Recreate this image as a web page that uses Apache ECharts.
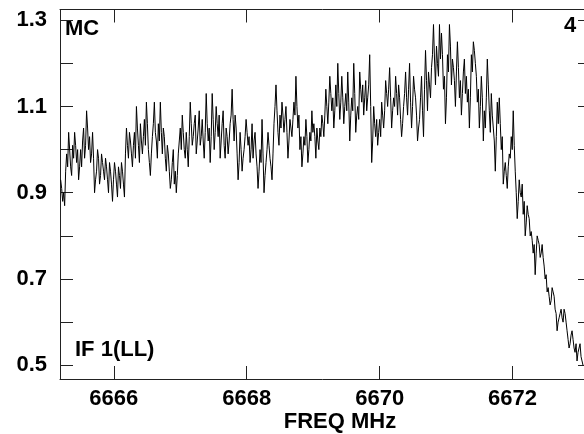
<!DOCTYPE html>
<html>
<head>
<meta charset="utf-8">
<script src="https://cdn.jsdelivr.net/npm/echarts@6/dist/echarts.min.js"></script>
<style>
html,body{margin:0;padding:0;background:#fff;}
#chart{width:584px;height:434px;}
</style>
</head>
<body>
<div id="chart"></div>
<script>
// Spectrum channels (frequency in MHz), regular channel spacing
const freqStart = 6665.2;
const freqStep = 0.015;
// Amplitude per channel
const amplitude = [
0.93,0.91,0.88,0.90,0.87,0.95,0.99,0.96,1.04,1.00,0.96,0.94,1.01,0.98,1.04,1.01,0.97,1.00,0.93,0.96,
1.00,0.96,1.02,1.05,0.98,1.01,1.09,1.05,1.00,1.03,0.97,0.99,1.04,0.98,0.90,0.93,0.95,1.00,0.98,0.92,
0.94,0.99,0.97,0.95,0.93,0.98,0.96,0.93,0.90,0.97,0.95,0.92,0.88,0.93,0.97,0.95,0.92,0.89,0.96,0.94,
0.91,0.97,0.95,0.92,0.89,0.99,1.05,1.01,0.98,1.04,1.02,0.99,0.96,1.01,1.04,0.98,1.10,1.05,1.01,0.97,
1.06,1.02,0.99,1.03,1.07,1.01,1.11,1.06,1.00,0.97,0.94,0.99,1.03,1.06,1.11,1.04,1.02,0.98,1.06,1.02,
1.11,1.04,0.99,1.05,1.03,0.98,0.95,1.01,0.99,0.95,0.91,0.93,0.97,1.00,0.92,0.95,0.90,0.94,0.99,1.02,
1.05,1.00,1.08,1.04,1.00,0.98,1.04,1.00,0.96,1.03,1.11,1.06,1.01,1.03,1.06,1.08,0.99,1.02,1.05,1.09,
1.01,1.03,1.07,1.02,0.98,1.04,1.13,1.06,1.02,1.05,0.97,1.03,1.13,1.07,1.00,1.04,1.10,1.06,1.03,1.08,
0.98,1.02,1.06,1.09,1.01,0.98,1.05,1.03,0.99,1.02,1.06,1.08,1.14,1.07,1.02,1.08,1.05,0.99,0.93,0.97,
1.04,1.00,0.95,0.98,1.00,1.03,1.07,1.04,1.01,1.03,0.97,1.00,1.06,0.98,1.02,1.04,0.99,0.96,0.91,0.95,
1.00,0.97,1.07,0.99,0.90,0.94,0.97,1.00,1.04,1.01,0.98,0.96,0.93,0.99,1.06,1.10,1.15,1.09,1.04,1.01,
1.08,1.05,1.11,1.08,1.04,1.07,1.10,1.04,0.98,1.02,1.07,1.05,1.03,1.07,1.11,1.08,1.17,1.10,1.05,1.08,
1.00,1.03,0.96,0.99,1.03,1.01,1.07,1.03,0.97,1.00,1.04,1.02,1.09,1.04,1.06,1.03,0.98,1.05,1.02,1.00,
1.05,1.03,1.08,1.06,1.03,1.08,1.14,1.10,1.06,1.11,1.17,1.13,1.09,1.12,1.05,1.09,1.15,1.10,1.20,1.13,
1.07,1.11,1.17,1.12,1.06,1.10,1.13,1.09,1.18,1.11,1.02,1.08,1.12,1.09,1.20,1.13,1.04,1.08,1.10,1.07,
1.18,1.14,1.11,1.15,1.08,1.12,1.16,1.09,1.12,1.15,1.22,1.10,0.97,1.02,1.10,1.06,1.03,1.07,1.01,1.04,
1.07,1.03,1.11,1.08,1.05,1.09,1.16,1.13,1.10,1.14,1.19,1.12,1.05,1.09,1.12,1.10,1.17,1.13,1.08,1.15,
1.12,1.07,1.03,1.06,1.10,1.13,1.18,1.12,1.08,1.14,1.20,1.11,1.05,1.10,1.17,1.14,1.12,1.08,1.02,1.05,
1.07,1.12,1.17,1.09,1.03,1.14,1.23,1.16,1.09,1.18,1.15,1.12,1.19,1.22,1.29,1.21,1.15,1.24,1.20,1.17,
1.29,1.21,1.27,1.22,1.14,1.17,1.06,1.12,1.22,1.18,1.29,1.24,1.15,1.21,1.19,1.16,1.10,1.18,1.25,1.19,
1.12,1.16,1.08,1.13,1.18,1.21,1.13,1.17,1.11,1.14,1.05,1.12,1.22,1.18,1.25,1.23,1.20,1.17,1.11,1.14,
1.05,1.10,1.17,1.12,1.02,1.09,1.05,1.12,1.21,1.15,1.09,1.04,1.13,1.08,1.05,1.02,0.95,1.03,1.11,1.06,
1.12,1.06,1.00,1.03,0.92,0.95,0.97,0.94,0.91,0.96,0.99,0.98,1.03,1.00,1.09,1.01,0.95,0.90,0.84,0.88,
0.93,0.90,0.89,0.92,0.85,0.88,0.80,0.83,0.87,0.85,0.84,0.80,0.81,0.79,0.76,0.78,0.71,0.76,0.80,0.79,
0.78,0.75,0.76,0.78,0.75,0.73,0.70,0.71,0.67,0.68,0.66,0.64,0.65,0.68,0.67,0.66,0.63,0.62,0.58,0.60,
0.61,0.62,0.63,0.61,0.60,0.63,0.62,0.60,0.58,0.56,0.54,0.55,0.57,0.58,0.56,0.54,0.53,0.55,0.51,0.53,
0.54,0.55,0.52,0.51,0.50
];
const xTickValues = [6666, 6668, 6670, 6672];
const yTickValues = [0.5, 0.6, 0.7, 0.8, 0.9, 1.0, 1.1, 1.2, 1.3];
const yLabelValues = [0.5, 0.7, 0.9, 1.1, 1.3];

const seriesData = amplitude.map((v, i) => [freqStart + i * freqStep, v]);

const FONT = '"Liberation Sans", Arial, sans-serif';
const AX = '#222';
const xMin = 6665.19, xMax = 6673.18;
const yMin = 0.4682, yMax = 1.3248;

const tickStyle = { show: true, inside: true, length: 13, lineStyle: { color: AX, width: 1 } };

const chart = echarts.init(document.getElementById('chart'), null, { renderer: 'canvas' });
chart.setOption({
  animation: false,
  backgroundColor: '#fff',
  grid: { left: 60, top: 9.5, width: 531, height: 369.5, containLabel: false, outerBoundsMode: 'none' },
  xAxis: [
    {
      type: 'value', position: 'bottom', min: xMin, max: xMax,
      axisLine: { show: true, onZero: false, lineStyle: { color: AX, width: 1 } },
      axisTick: Object.assign({ customValues: xTickValues }, tickStyle),
      axisLabel: { customValues: xTickValues, margin: 9, color: '#000', fontFamily: FONT, fontWeight: 'bold', fontSize: 22,
        formatter: v => String(Math.round(v)) },
      splitLine: { show: false }
    },
    {
      type: 'value', position: 'top', min: xMin, max: xMax,
      axisLine: { show: true, onZero: false, lineStyle: { color: AX, width: 1 } },
      axisTick: Object.assign({ customValues: xTickValues }, tickStyle),
      axisLabel: { show: false },
      splitLine: { show: false }
    }
  ],
  yAxis: [
    {
      type: 'value', position: 'left', min: yMin, max: yMax,
      axisLine: { show: true, onZero: false, lineStyle: { color: AX, width: 1 } },
      axisTick: Object.assign({ customValues: yTickValues }, tickStyle),
      axisLabel: { customValues: yLabelValues, margin: 13, color: '#000', fontFamily: FONT, fontWeight: 'bold', fontSize: 22,
        formatter: v => v.toFixed(1) },
      splitLine: { show: false }
    },
    {
      type: 'value', position: 'right', min: yMin, max: yMax,
      axisLine: { show: true, onZero: false, lineStyle: { color: AX, width: 1 } },
      axisTick: Object.assign({ customValues: yTickValues }, tickStyle),
      axisLabel: { show: false },
      splitLine: { show: false }
    }
  ],
  graphic: [
    { type: 'text', left: 65, top: 18, style: { text: 'MC', fill: '#000', font: 'bold 22px ' + FONT } },
    { type: 'text', left: 564, top: 15, style: { text: '4', fill: '#000', font: 'bold 22px ' + FONT } },
    { type: 'text', left: 75, top: 339, style: { text: 'IF 1(LL)', fill: '#000', font: 'bold 22px ' + FONT } },
    { type: 'text', x: 340, y: 411, style: { text: 'FREQ MHz', fill: '#000', font: 'bold 22px ' + FONT, align: 'center', verticalAlign: 'top' } }
  ],
  series: [{
    type: 'line', xAxisIndex: 0, yAxisIndex: 0,
    data: seriesData, showSymbol: false, symbol: 'none', clip: true,
    lineStyle: { color: '#000', width: 1 }
  }]
});
</script>
</body>
</html>
